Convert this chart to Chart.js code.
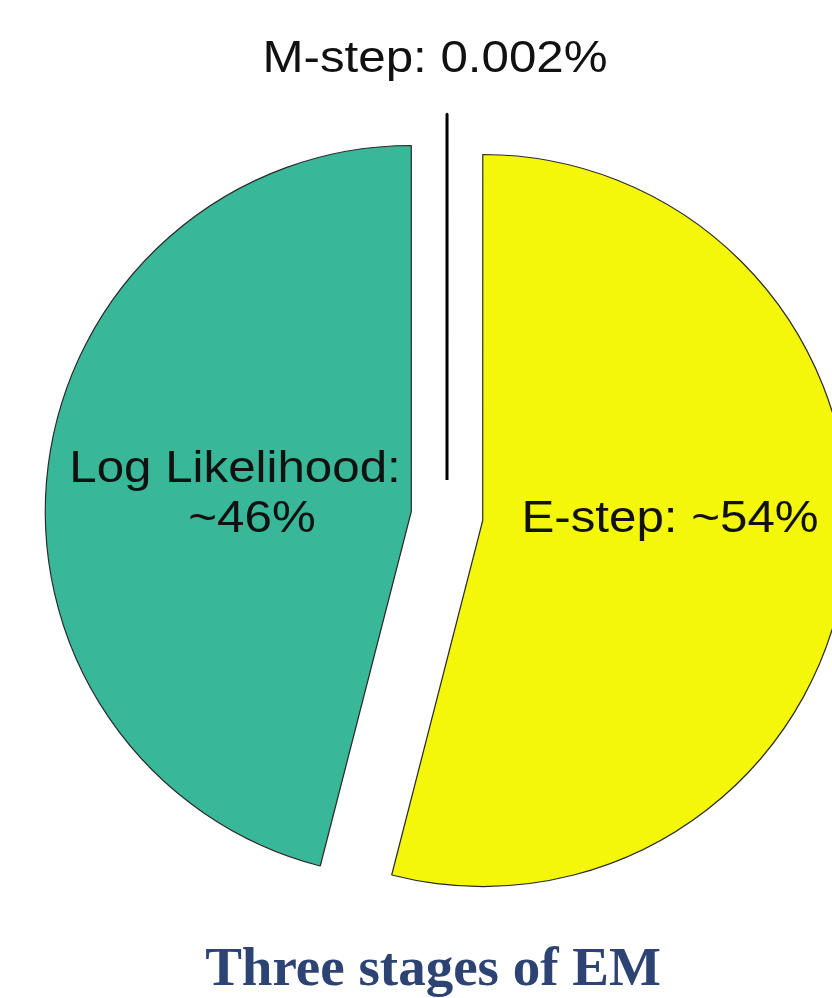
<!DOCTYPE html>
<html>
<head>
<meta charset="utf-8">
<title>Three stages of EM</title>
<script src="https://cdn.jsdelivr.net/npm/chart.js@4.4.1/dist/chart.umd.min.js"></script>
<style>
  body { margin: 0; background: #fff; }
  canvas { display: block; }
</style>
</head>
<body>
<canvas id="emChart" width="832" height="998"></canvas>
<script>
// share of run time spent in each stage (percent)
const stages = ['M-step', 'E-step', 'Log Likelihood'];
const shares = [0.002, 54, 46];
const stageLabels = [['M-step: 0.002%'], ['E-step: ~54%'], ['Log Likelihood:', '~46%']];
const chartTitle = 'Three stages of EM';

// pulls every slice straight out from the centre (the built-in offset also tilts the edges)
const explode = {
  id: 'explode',
  afterDatasetUpdate(chart, args, opts) {
    const meta = chart.getDatasetMeta(args.index);
    meta.data.forEach((arc) => {
      const mid = (arc.startAngle + arc.endAngle) / 2;
      arc.x += Math.cos(mid) * opts.distance;
      arc.y += Math.sin(mid) * opts.distance;
    });
  }
};

// draws the slice labels and the caption under the pie
const sliceLabels = {
  id: 'sliceLabels',
  afterDraw(chart) {
    const ctx = chart.ctx;
    const area = chart.chartArea;
    const cx = (area.left + area.right) / 2;
    const cy = (area.top + area.bottom) / 2;

    function stretchedText(text, x, y) {
      ctx.save();
      ctx.translate(x, y);
      ctx.scale(1.12, 1);
      ctx.fillText(text, 0, 0);
      ctx.restore();
    }

    ctx.save();
    ctx.font = '44px "Liberation Sans", Arial, sans-serif';
    ctx.fillStyle = '#111';
    ctx.textAlign = 'center';
    ctx.textBaseline = 'alphabetic';

    stretchedText(stageLabels[0][0], cx - 12, cy - 444);
    stretchedText(stageLabels[1][0], cx + 223, cy + 16);
    stretchedText(stageLabels[2][0], cx - 212, cy - 34);
    stretchedText(stageLabels[2][1], cx - 195, cy + 16);

    // caption
    ctx.font = 'bold 55px "Liberation Serif", "Times New Roman", serif';
    ctx.fillStyle = '#2d4373';
    ctx.fillText(chartTitle, 433, 985);
    ctx.restore();
  }
};

const ctx = document.getElementById('emChart').getContext('2d');
new Chart(ctx, {
  type: 'pie',
  data: {
    labels: stages,
    datasets: [{
      data: shares,
      backgroundColor: ['#000000', '#f5f70a', '#38b898'],
      borderColor: ['#000000', '#2a2a2a', '#2a2a2a'],
      borderWidth: [3, 1.2, 1.2]
    }]
  },
  options: {
    responsive: false,
    animation: false,
    radius: 366,
    layout: {
      padding: { left: 62, right: 0, top: 34, bottom: 0 }
    },
    plugins: {
      legend: { display: false },
      tooltip: { enabled: false },
      title: { display: false },
      explode: { distance: 36 }
    }
  },
  plugins: [explode, sliceLabels]
});
</script>
</body>
</html>
